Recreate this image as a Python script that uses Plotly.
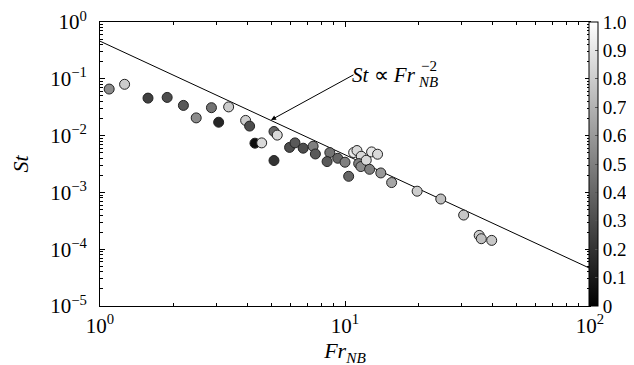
import plotly.graph_objects as go

# ---- data ----
FR = [1.09, 1.26, 1.57, 1.88, 2.19, 2.47, 2.85, 3.05, 3.35, 3.93, 4.08, 4.29, 4.57,
      5.13, 5.29, 5.13, 5.94, 6.25, 6.75, 7.41, 7.57, 8.67, 8.45, 9.34, 10.0, 10.35,
      10.85, 11.19, 11.65, 11.37, 11.61, 12.21, 12.6, 12.84, 13.58, 14.0, 15.5, 19.7,
      24.6, 30.5, 35.3, 36.0, 39.7]
ST = [0.066, 0.080, 0.0457, 0.047, 0.034, 0.0205, 0.031, 0.0172, 0.032, 0.0185, 0.0147,
      0.00735, 0.00744, 0.0118, 0.0102, 0.00364, 0.0062, 0.00744, 0.0060, 0.0065, 0.00475,
      0.00503, 0.00349, 0.00399, 0.0034, 0.00192, 0.00503, 0.00546, 0.00433, 0.00322,
      0.00285, 0.00368, 0.00255, 0.00516, 0.0047, 0.0022, 0.00149, 0.00105, 0.000765,
      0.000399, 0.000175, 0.000153, 0.000143]
SHADE = [0.55, 0.8, 0.25, 0.3, 0.35, 0.55, 0.45, 0.15, 0.8, 0.8, 0.3, 0.05, 0.85,
         0.4, 0.85, 0.2, 0.3, 0.35, 0.3, 0.5, 0.35, 0.45, 0.35, 0.4, 0.5, 0.4,
         0.92, 0.85, 0.85, 0.5, 0.55, 0.85, 0.5, 0.9, 0.85, 0.6, 0.65, 0.8,
         0.75, 0.78, 0.8, 0.75, 0.78]

LINE_FR = [1, 100]
LINE_ST = [0.46, 4.6e-5]

Y_TICKS = [1e-5, 1e-4, 1e-3, 1e-2, 1e-1, 1]
Y_TEXT = ["10<sup>−5</sup>", "10<sup>−4</sup>", "10<sup>−3</sup>",
          "10<sup>−2</sup>", "10<sup>−1</sup>", "10<sup>0</sup>"]
X_TICKS = [1, 10, 100]
X_TEXT = ["10<sup>0</sup>", "10<sup>1</sup>", "10<sup>2</sup>"]
CB_TICKS = [0, 0.1, 0.2, 0.3, 0.4, 0.5, 0.6, 0.7, 0.8, 0.9, 1.0]
CB_TEXT = ["0", "0.1", "0.2", "0.3", "0.4", "0.5", "0.6", "0.7", "0.8", "0.9", "1.0"]

FONT = "Liberation Serif"

# plot geometry (pixels)
W, H = 634, 365
L, R, T, B = 92, 52, 14, 67
PW, PH = W - L - R, H - T - B


def xlog(px):
    return (px - L) / PW * 2.0


def ylog(py):
    return -(py - T) / PH * 5.0


fig = go.Figure()

fig.add_trace(go.Scatter(
    x=LINE_FR, y=LINE_ST, mode="lines",
    line=dict(color="black", width=1), showlegend=False, hoverinfo="skip"))

fig.add_trace(go.Scatter(
    x=FR, y=ST, mode="markers", showlegend=False,
    marker=dict(
        size=10, color=SHADE, cmin=0, cmax=1,
        colorscale=[[0, "black"], [1, "white"]],
        line=dict(color="#222222", width=1),
        colorbar=dict(
            x=(581 - L) / PW, xanchor="left", xpad=0,
            y=0.5, yanchor="middle", len=1, lenmode="fraction", ypad=0,
            thickness=9, outlinecolor="black", outlinewidth=1,
            tickmode="array", tickvals=CB_TICKS, ticktext=CB_TEXT,
            ticks="inside", ticklen=3, tickcolor="#555555",
            tickfont=dict(family=FONT, size=19, color="black"),
        ),
    )))

axis_common = dict(
    type="log", showline=True, linecolor="black", linewidth=1, mirror="ticks",
    ticks="inside", ticklen=5, tickcolor="black", showgrid=False, zeroline=False,
    tickmode="array", tickfont=dict(family=FONT, size=21, color="black"),
    ticklabeloverflow="allow",
    minor=dict(ticks="inside", ticklen=3, tickcolor="black", dtick="D1", showgrid=False),
)

fig.update_xaxes(**axis_common, range=[0, 2], tickvals=X_TICKS, ticktext=X_TEXT,
                 ticklabelstandoff=1,
                 title=dict(text="<i>Fr</i><sub><i>NB</i></sub>",
                            font=dict(family=FONT, size=22, color="black"), standoff=4))
fig.update_yaxes(**axis_common, range=[-5, 0], tickvals=Y_TICKS, ticktext=Y_TEXT,
                 ticklabelstandoff=8,
                 title=dict(text="<i>St</i>",
                            font=dict(family=FONT, size=22, color="black"), standoff=32))

# arrow pointing to the fit line
fig.add_annotation(x=xlog(263), y=ylog(112), ax=84, ay=-46, text="",
                   showarrow=True, arrowhead=2, arrowsize=1, arrowwidth=1,
                   arrowcolor="black")
# label  St ∝ Fr_NB^-2
fig.add_annotation(x=xlog(410), y=ylog(67), text="<i>St</i> ∝ <i>Fr</i>",
                   showarrow=False, xanchor="right", yanchor="middle",
                   font=dict(family=FONT, size=21, color="black"))
fig.add_annotation(x=xlog(408), y=ylog(74), text="<i>NB</i>",
                   showarrow=False, xanchor="left", yanchor="middle",
                   font=dict(family=FONT, size=15, color="black"))
fig.add_annotation(x=xlog(411), y=ylog(58), text="−2",
                   showarrow=False, xanchor="left", yanchor="middle",
                   font=dict(family=FONT, size=15, color="black"))

fig.update_layout(
    width=W, height=H, margin=dict(l=L, r=R, t=T, b=B, autoexpand=False),
    paper_bgcolor="white", plot_bgcolor="white",
    font=dict(family=FONT, color="black"),
)

fig.write_html("out.html")
